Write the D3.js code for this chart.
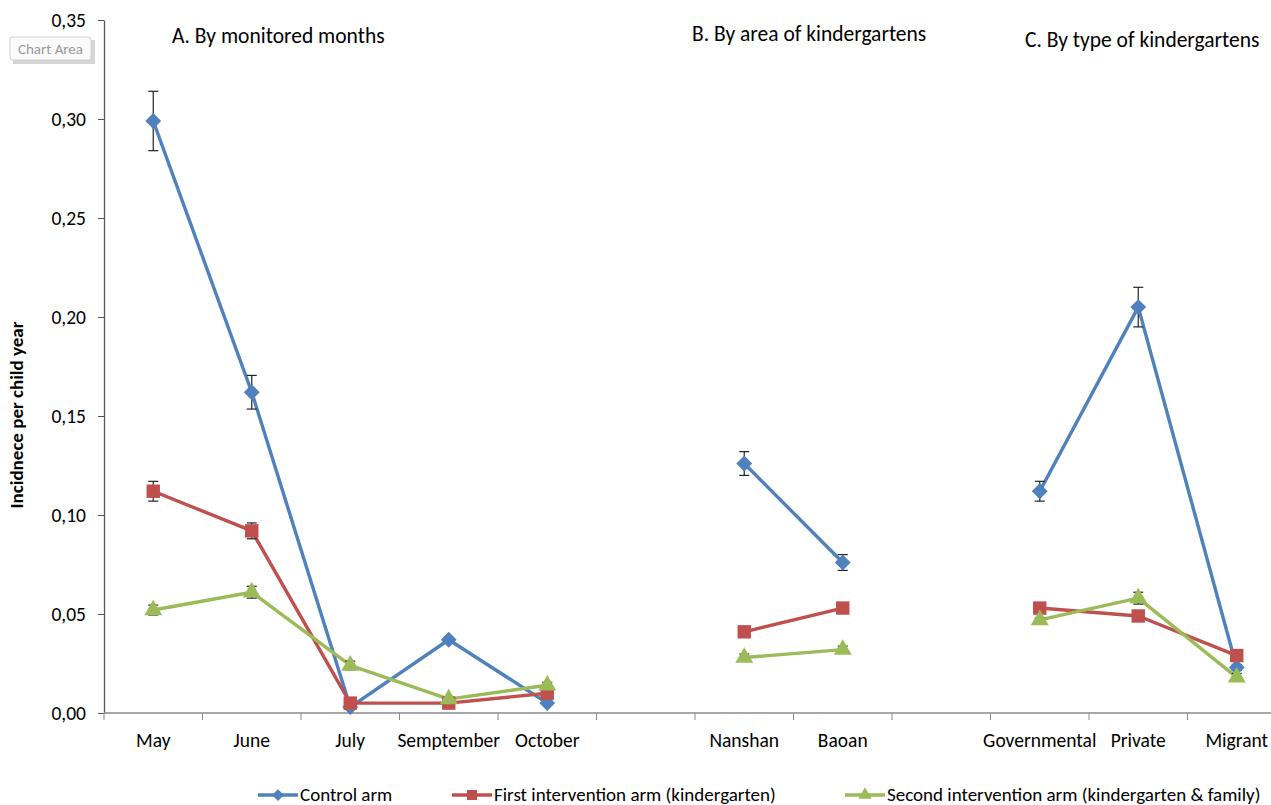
<!DOCTYPE html>
<html>
<head>
<meta charset="utf-8">
<script src="https://cdn.jsdelivr.net/npm/d3@7"></script>
<style>
  html, body { margin: 0; padding: 0; background: #fff; overflow: hidden; }
  svg { display: block; font-family: Calibri, Carlito, "Open Sans", sans-serif; }
</style>
</head>
<body>
<svg id="chart" width="1271" height="805"></svg>
<script>
// Categories along the x axis; empty slots separate the three panels
const categories = ["May", "June", "July", "Semptember", "October", "",
                    "Nanshan", "Baoan", " ",
                    "Governmental", "Private", "Migrant"];
const groups = [
  ["May", "June", "July", "Semptember", "October"],
  ["Nanshan", "Baoan"],
  ["Governmental", "Private", "Migrant"]
];
const panelTitles = ["A. By monitored months", "B. By area of kindergartens", "C. By type of kindergartens"];
const yTicks = [0, 0.05, 0.10, 0.15, 0.20, 0.25, 0.30, 0.35];

// Incidence per child year, by arm
const controlArm = {
  May: 0.299, June: 0.162, July: 0.003, Semptember: 0.037, October: 0.005,
  Nanshan: 0.126, Baoan: 0.076,
  Governmental: 0.112, Private: 0.205, Migrant: 0.023
};
const firstArm = {
  May: 0.112, June: 0.092, July: 0.005, Semptember: 0.005, October: 0.010,
  Nanshan: 0.041, Baoan: 0.053,
  Governmental: 0.053, Private: 0.049, Migrant: 0.029
};
const secondArm = {
  May: 0.052, June: 0.061, July: 0.024, Semptember: 0.007, October: 0.014,
  Nanshan: 0.028, Baoan: 0.032,
  Governmental: 0.047, Private: 0.058, Migrant: 0.018
};
// Half-width of the error bars
const controlErr = {
  May: 0.015, June: 0.0085, July: 0.001, Semptember: 0.0012, October: 0.001,
  Nanshan: 0.006, Baoan: 0.004,
  Governmental: 0.005, Private: 0.010, Migrant: 0.0015
};
const firstErr = {
  May: 0.005, June: 0.004, July: 0.001, Semptember: 0.001, October: 0.0012,
  Nanshan: 0.001, Baoan: 0.001,
  Governmental: 0.001, Private: 0.001, Migrant: 0.001
};
const secondErr = {
  May: 0.0025, June: 0.003, July: 0.0022, Semptember: 0.001, October: 0.0015,
  Nanshan: 0.0018, Baoan: 0.0018,
  Governmental: 0.001, Private: 0.003, Migrant: 0.002
};

const seriesNames = ["Control arm", "First intervention arm (kindergarten)", "Second intervention arm (kindergarten & family)"];
const seriesColors = ["#4F81BD", "#C0504D", "#9BBB59"];
const seriesSymbols = [d3.symbolDiamond2, d3.symbolSquare, d3.symbolTriangle];
const series = [
  { name: seriesNames[0], values: controlArm, err: controlErr, color: seriesColors[0], symbol: seriesSymbols[0], size: 160 },
  { name: seriesNames[1], values: firstArm, err: firstErr, color: seriesColors[1], symbol: seriesSymbols[1], size: 180 },
  { name: seriesNames[2], values: secondArm, err: secondErr, color: seriesColors[2], symbol: seriesSymbols[2], size: 140 }
];

const svg = d3.select("#chart");
const x = d3.scaleBand().domain(categories).range([104, 1286]);
const y = d3.scaleLinear().domain([0, 0.35]).range([713, 20]);
const cx = c => x(c) + x.bandwidth() / 2;
const fmt = v => d3.format(".2f")(v).replace(".", ",");
const FONT = "Calibri, Carlito, 'Open Sans', sans-serif";

// Y axis
const yAxis = svg.append("g").attr("transform", "translate(104,0)")
  .call(d3.axisLeft(y).tickValues(yTicks).tickFormat(fmt).tickSize(6).tickSizeOuter(0));
yAxis.select(".domain").attr("stroke", "#555").attr("stroke-width", 1.3);
yAxis.selectAll(".tick line").attr("stroke", "#555");
yAxis.selectAll(".tick text").attr("font-size", 19.5).attr("fill", "#000").attr("x", -18)
  .style("font-family", FONT);

// X axis: ticks on the band boundaries
const xAxis = svg.append("g").attr("transform", "translate(0,713)");
xAxis.append("line").attr("x1", 104).attr("x2", 1286).attr("stroke", "#8a8a8a").attr("stroke-width", 1.3);
xAxis.selectAll("line.tk").data(categories).join("line").attr("class", "tk")
  .attr("x1", d => x(d)).attr("x2", d => x(d)).attr("y1", 0).attr("y2", 7)
  .attr("stroke", "#8a8a8a");
xAxis.selectAll("text").data(categories.filter(c => c.trim() !== "")).join("text")
  .attr("x", d => cx(d)).attr("y", 34).attr("text-anchor", "middle")
  .attr("font-size", 19.5).attr("fill", "#000").text(d => d);

// Y axis title
svg.append("text").attr("transform", "translate(23,415) rotate(-90)")
  .attr("text-anchor", "middle").attr("font-size", 19).attr("font-weight", "bold")
  .text("Incidnece per child year");

// Panel titles
const titlePos = [[172, 43], [692, 41], [1025, 47]];
panelTitles.forEach((t, i) => {
  svg.append("text").attr("x", titlePos[i][0]).attr("y", titlePos[i][1])
    .attr("font-size", 21.5).attr("fill", "#000").text(t);
});

// Lines, error bars and markers for each arm
series.forEach(s => {
  const g = svg.append("g");
  groups.forEach(grp => {
    g.append("path")
      .attr("d", d3.line().x(c => cx(c)).y(c => y(s.values[c]))(grp))
      .attr("fill", "none").attr("stroke", s.color).attr("stroke-width", 3.4)
      .attr("stroke-linejoin", "round");
  });
});
series.forEach(s => {
  const g = svg.append("g");
  const cats = groups.flat();
  cats.forEach(c => {
    const v = s.values[c], e = s.err[c];
    const x0 = cx(c);
    g.append("line").attr("x1", x0).attr("x2", x0).attr("y1", y(v - e)).attr("y2", y(v + e))
      .attr("stroke", "#222").attr("stroke-width", 1.2);
    [v - e, v + e].forEach(t => g.append("line")
      .attr("x1", x0 - 5).attr("x2", x0 + 5).attr("y1", y(t)).attr("y2", y(t))
      .attr("stroke", "#222").attr("stroke-width", 1.2));
  });
  g.selectAll("path.mk").data(cats).join("path").attr("class", "mk")
    .attr("transform", c => `translate(${cx(c)},${y(s.values[c])})`)
    .attr("d", d3.symbol().type(s.symbol).size(s.size))
    .attr("fill", s.color);
});

// Legend along the bottom edge
const legendX = [258, 452, 845];
series.forEach((s, i) => {
  const g = svg.append("g").attr("transform", `translate(${legendX[i]},795)`);
  g.append("line").attr("x1", 0).attr("x2", 40).attr("stroke", s.color).attr("stroke-width", 3.4);
  g.append("path").attr("transform", "translate(20,0)")
    .attr("d", d3.symbol().type(s.symbol).size(s.size * 0.55)).attr("fill", s.color);
  g.append("text").attr("x", 42).attr("y", 5.5).attr("font-size", 19).text(s.name);
});

// "Chart Area" hover label
const tip = svg.append("g").attr("transform", "translate(10,37)");
tip.append("rect").attr("x", 3).attr("y", 3).attr("width", 82).attr("height", 24).attr("fill", "#bbb").attr("opacity", 0.6);
tip.append("rect").attr("width", 81).attr("height", 23).attr("rx", 2).attr("fill", "#fbfbfb").attr("stroke", "#cfcfcf");
tip.append("text").attr("x", 40.5).attr("y", 16.5).attr("text-anchor", "middle")
  .attr("font-size", 15).attr("fill", "#9a9a9a").text("Chart Area");
</script>
</body>
</html>
